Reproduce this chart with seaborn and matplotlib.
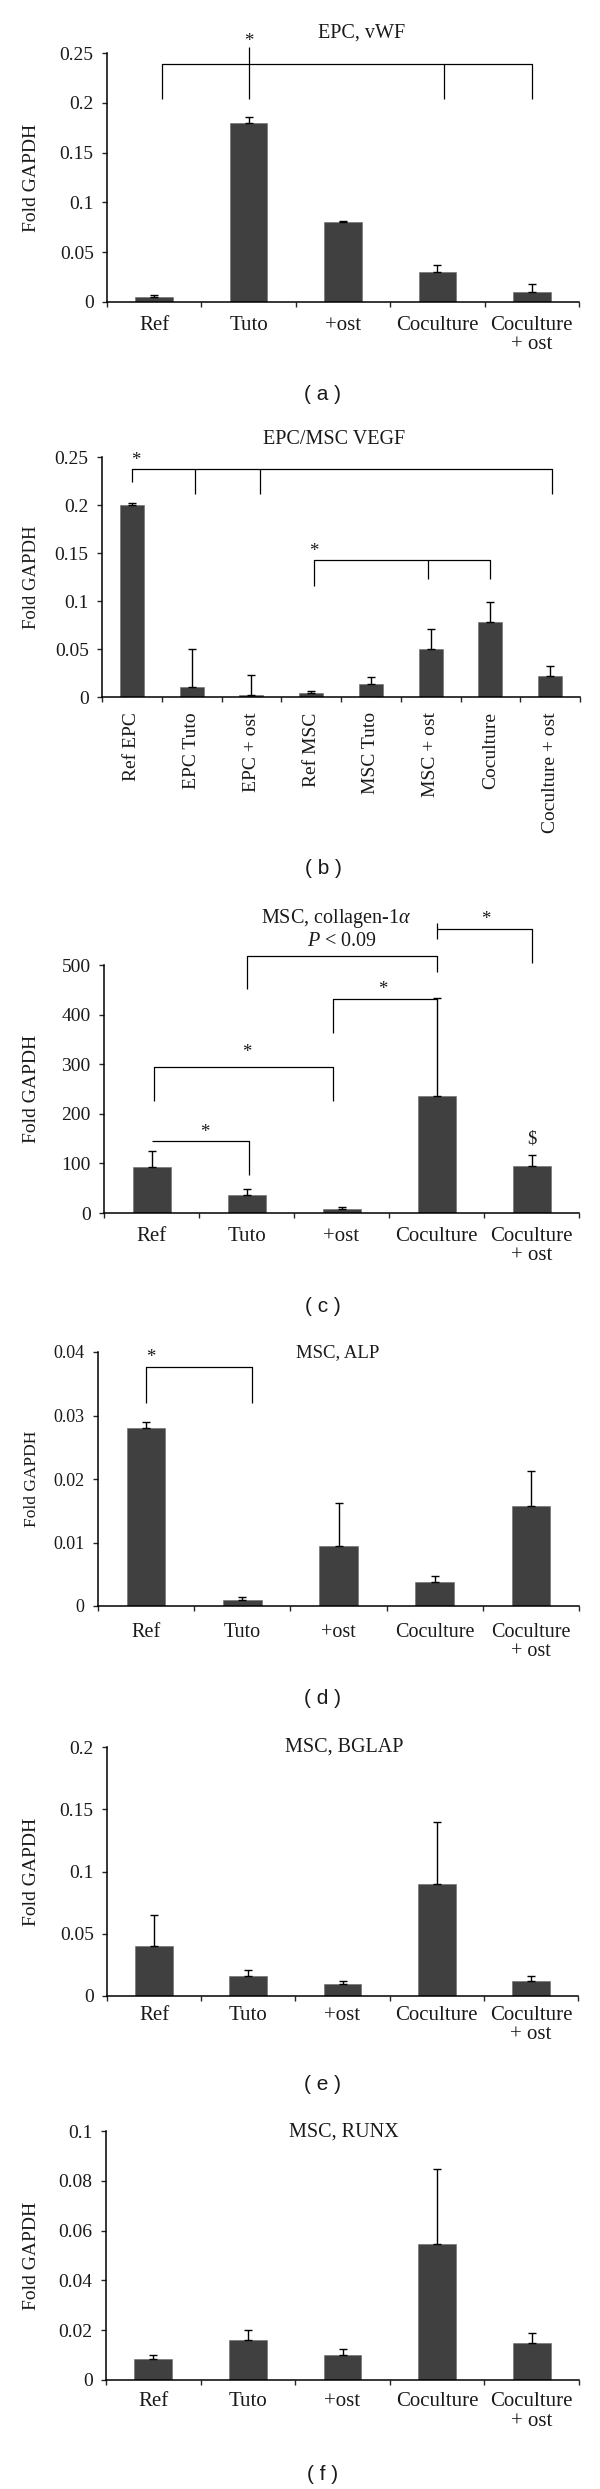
import numpy as np
import matplotlib
matplotlib.use("Agg")
import matplotlib.pyplot as plt
import seaborn as sns

sns.set_style("ticks")
plt.rcParams["font.family"] = ["Liberation Serif", "DejaVu Serif"]
plt.rcParams["mathtext.fontset"] = "custom"
plt.rcParams["mathtext.rm"] = "Liberation Serif"
plt.rcParams["mathtext.it"] = "Liberation Serif:italic"

# ---- data -------------------------------------------------------------
groups5 = ["Ref", "Tuto", "+ost", "Coculture", "Coculture\n+ ost"]
groups8 = ["Ref EPC", "EPC Tuto", "EPC + ost", "Ref MSC", "MSC Tuto",
           "MSC + ost", "Coculture", "Coculture + ost"]

vwf = [0.005, 0.18, 0.08, 0.03, 0.01]
vwf_err = [0.0022, 0.006, 0.001, 0.0073, 0.0078]

vegf = [0.2, 0.01, 0.002, 0.0045, 0.014, 0.05, 0.078, 0.022]
vegf_err = [0.0025, 0.04, 0.0205, 0.0015, 0.0073, 0.021, 0.021, 0.0105]

col1a = [92, 37, 9, 236, 94]
col1a_err = [33, 12, 4, 197, 23]

alp = [0.028, 0.001, 0.0095, 0.0038, 0.0158]
alp_err = [0.001, 0.0004, 0.0067, 0.0009, 0.0054]

bglap = [0.04, 0.016, 0.01, 0.09, 0.012]
bglap_err = [0.025, 0.005, 0.0024, 0.05, 0.004]

runx = [0.0084, 0.016, 0.01, 0.0546, 0.015]
runx_err = [0.0016, 0.004, 0.0024, 0.03, 0.004]

# significance brackets: polylines in data coords, stars as (x, y, text)
vwf_lines = [[(0.08, 0.204), (0.08, 0.239), (4.0, 0.239), (4.0, 0.204)],
             [(1.0, 0.204), (1.0, 0.256)],
             [(3.07, 0.239), (3.07, 0.204)]]
vwf_marks = [(1.0, 0.262, "*")]

vegf_lines = [[(0.0, 0.224), (0.0, 0.238), (7.03, 0.238), (7.03, 0.211)],
              [(1.06, 0.238), (1.06, 0.211)],
              [(2.14, 0.238), (2.14, 0.211)],
              [(3.04, 0.116), (3.04, 0.143), (5.99, 0.143), (5.99, 0.123)],
              [(4.96, 0.143), (4.96, 0.123)]]
vegf_marks = [(0.06, 0.246, "*"), (3.04, 0.152, "*")]

col1a_lines = [[(0.0, 145), (1.03, 145), (1.03, 76)],
               [(0.03, 226), (0.03, 294), (1.91, 294), (1.91, 226)],
               [(1.91, 363), (1.91, 432), (3.0, 432)],
               [(1.0, 451), (1.0, 518), (3.0, 518), (3.0, 486)],
               [(3.0, 585), (3.0, 553)],
               [(3.0, 573), (4.0, 573), (4.0, 504)]]
col1a_marks = [(0.56, 163, "*"), (1.0, 323, "*"), (2.43, 451, "*"),
               (3.52, 591, "*"), (4.0, 150, "$")]

alp_lines = [[(0.0, 0.032), (0.0, 0.0376), (1.1, 0.0376), (1.1, 0.032)]]
alp_marks = [(0.05, 0.0392, "*")]

BAR = "#404040"
INK = "#1a1a1a"
W, H = 600, 2489

fig = plt.figure(figsize=(W / 100, H / 100), dpi=100)


def make_ax(left, top, right, bottom):
    return fig.add_axes([left / W, 1 - bottom / H, (right - left) / W, (bottom - top) / H])


def panel(box, cats, vals, errs, ymax, ystep, tick_fs, lab_fs, xpad, rot=0,
          lines=(), marks=(), xfs=15):
    ax = make_ax(*box)
    n = len(cats)
    sns.barplot(x=cats, y=vals, color=BAR, saturation=1, width=0.4,
                edgecolor="#6a6a6a", linewidth=0.4, ax=ax)
    x = np.arange(n)
    ax.errorbar(x, vals, yerr=[np.zeros(n), errs], fmt="none", ecolor="black",
                elinewidth=1.0, capsize=2.6, capthick=1.0, clip_on=False)
    ax.set_xlim(-0.5, n - 0.5)
    ax.set_ylim(0, ymax)
    yt = np.round(np.arange(0, ymax + ystep / 2, ystep), 4)
    ax.set_yticks(yt)
    ax.set_yticklabels([f"{v:g}" for v in yt], fontsize=tick_fs, color=INK)
    ax.set_xticks(x)
    if rot:
        ax.set_xticklabels(cats, rotation=90, fontsize=xfs, color=INK,
                           va="top", ha="center")
    else:
        ax.set_xticklabels(cats, fontsize=xfs, color=INK, linespacing=1.0)
    ax.set_xticks(np.arange(n + 1) - 0.5, minor=True)
    ax.tick_params(axis="x", which="major", length=0, pad=xpad)
    ax.tick_params(axis="x", which="minor", length=3.6, width=1.0, direction="out")
    ax.tick_params(axis="y", length=3.6, width=1.0, direction="out", pad=6)
    ax.set_xlabel("")
    ax.set_ylabel("Fold GAPDH", fontsize=lab_fs, color=INK)
    ax.yaxis.set_label_coords((40 - box[0]) / (box[2] - box[0]), 0.5)
    sns.despine(ax=ax)
    for s in ("left", "bottom"):
        ax.spines[s].set_linewidth(1.1)
        ax.spines[s].set_color("black")
    for pts in lines:
        xs, ys = zip(*pts)
        ax.plot(xs, ys, color="black", lw=0.9, clip_on=False, solid_capstyle="butt")
    for mx, my, t in marks:
        ax.text(mx, my, t, ha="center", va="center", fontsize=13.5, color=INK)
    return ax


def label(px, py, text, size=14.5, family=None, **kw):
    fig.text(px / W, 1 - py / H, text, ha="center", va="center", fontsize=size,
             color=INK, family=family, **kw)


SANS = ["Liberation Sans", "DejaVu Sans"]

# (a)
panel((107, 53, 579, 302), groups5, vwf, vwf_err, 0.25, 0.05, 14, 14, 10,
      lines=vwf_lines, marks=vwf_marks)
label(362, 33, "EPC, vWF")
label(323, 395, "( a )", 15, SANS)

# (b)
panel((102, 457, 580, 697), groups8, vegf, vegf_err, 0.25, 0.05, 14, 13.5, 11,
      rot=90, lines=vegf_lines, marks=vegf_marks, xfs=14)
label(334, 440, "EPC/MSC VEGF")
label(323, 868, "( b )", 15, SANS)

# (c)
panel((104, 965, 579, 1213), groups5, col1a, col1a_err, 500, 100, 14, 14, 10,
      lines=col1a_lines, marks=col1a_marks)
label(336, 918, "MSC, collagen-1$\\alpha$")
label(342, 941, "$P$ < 0.09")
label(323, 1307, "( c )", 15, SANS)

# (d)
panel((98, 1352, 579, 1606), groups5, alp, alp_err, 0.04, 0.01, 13, 12.5, 12,
      lines=alp_lines, marks=alp_marks, xfs=14.5)
label(338, 1353, "MSC, ALP", 13.5)
label(323, 1698, "( d )", 15, SANS)

# (e)
panel((107, 1747, 578, 1996), groups5, bglap, bglap_err, 0.2, 0.05, 14, 14, 7)
label(344, 1747, "MSC, BGLAP")
label(323, 2084, "( e )", 15, SANS)

# (f)
panel((106, 2131, 579, 2380), groups5, runx, runx_err, 0.1, 0.02, 14, 14, 9)
label(344, 2132, "MSC, RUNX")
label(323, 2475, "( f )", 15, SANS)

fig.savefig("out.png", dpi=100, facecolor="white")
